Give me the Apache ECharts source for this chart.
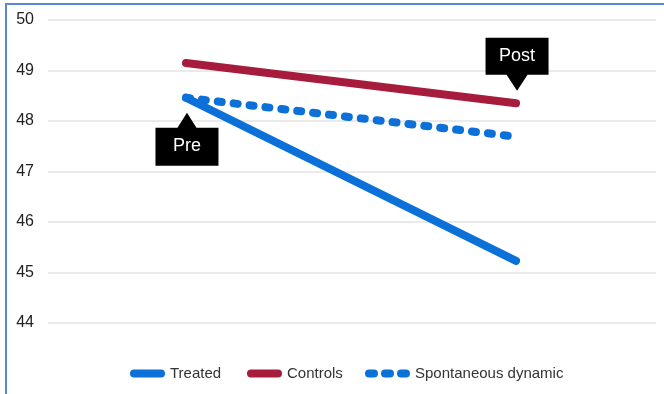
<!DOCTYPE html>
<html>
<head>
<meta charset="utf-8">
<script src="https://cdn.jsdelivr.net/npm/echarts@6/dist/echarts.min.js"></script>
<style>
  html, body { margin: 0; padding: 0; background: #fff; }
  #chart { width: 664px; height: 394px; }
</style>
</head>
<body>
<div id="chart"></div>
<script>
// Measurement occasions (x positions 0 and 1 on a hidden value axis)
const stages = ['Pre', 'Post'];

// Mean scores per group
const treated = [48.46, 45.23];
const controls = [49.15, 48.35];
const spontaneous = [48.46, 47.69];

// Y axis range and step
const yMin = 44;
const yMax = 50;
const yStep = 1;

const BLUE = '#0b70d7';
const RED = '#a71c3d';
const FONT = '"Liberation Sans", Arial, sans-serif';

const toPoints = vals => vals.map((v, i) => [i, v]);

// Legend icons
const pillIcon = 'path://M4,0 L31,0 A4,4 0 0 1 31,8 L4,8 A4,4 0 0 1 4,0 Z';
const dotsIcon = 'path://M4,0 L9,0 A4,4 0 0 1 9,8 L4,8 A4,4 0 0 1 4,0 Z ' +
  'M20,0 L25,0 A4,4 0 0 1 25,8 L20,8 A4,4 0 0 1 20,0 Z ' +
  'M36,0 L41,0 A4,4 0 0 1 41,8 L36,8 A4,4 0 0 1 36,0 Z';

// Callout shapes: box below with pointer up, box above with pointer down
const calloutUp = 'path://M31.5,0 L41,15 L63,15 L63,53 L0,53 L0,15 L22,15 Z';
const calloutDown = 'path://M0,0 L63,0 L63,37 L42,37 L31.5,53 L21,37 L0,37 Z';

function legendFor(name, left, width, icon) {
  return {
    data: [{ name: name, icon: icon }],
    left: left,
    top: 366,
    padding: 0,
    itemWidth: width,
    itemHeight: 8,
    itemGap: 0,
    selectedMode: false,
    textStyle: { fontFamily: FONT, fontSize: 15, color: '#333' }
  };
}

const chart = echarts.init(document.getElementById('chart'), null, { renderer: 'canvas' });

chart.setOption({
  animation: false,
  backgroundColor: '#fff',
  grid: { left: 48, right: 8, top: 20, bottom: 71, containLabel: false },
  xAxis: {
    type: 'value',
    min: -0.418,
    max: 1.424,
    show: false,
    splitLine: { show: false }
  },
  yAxis: {
    type: 'value',
    min: yMin,
    max: yMax,
    interval: yStep,
    axisLine: { show: false },
    axisTick: { show: false },
    axisLabel: { fontFamily: FONT, fontSize: 16, color: '#222', margin: 14 },
    splitLine: { lineStyle: { color: '#e3e3e3', width: 1.5 } }
  },
  legend: [
    legendFor('Treated', 130, 35, pillIcon),
    legendFor('Controls', 247, 35, pillIcon),
    legendFor('Spontaneous dynamic', 365, 45, dotsIcon)
  ],
  graphic: [{
    type: 'rect',
    shape: { x: 6, y: 4, width: 720, height: 500 },
    style: { fill: null, stroke: '#5b87d2', lineWidth: 2 },
    silent: true,
    z: 100
  }],
  series: [
    {
      name: 'Treated',
      type: 'line',
      data: toPoints(treated),
      color: BLUE,
      symbol: 'none',
      lineStyle: { color: BLUE, width: 8, cap: 'round' },
      markPoint: {
        symbol: calloutUp,
        symbolSize: [63, 53],
        symbolOffset: [1, 41.5],
        itemStyle: { color: '#000' },
        label: {
          show: true,
          formatter: '{b}',
          color: '#fff',
          fontFamily: FONT,
          fontSize: 18,
          offset: [0, 7]
        },
        data: [{ name: stages[0], coord: [0, treated[0]] }]
      },
      z: 2
    },
    {
      name: 'Controls',
      type: 'line',
      data: toPoints(controls),
      color: RED,
      symbol: 'none',
      lineStyle: { color: RED, width: 8, cap: 'round' },
      markPoint: {
        symbol: calloutDown,
        symbolSize: [63, 53],
        symbolOffset: [1, -39],
        itemStyle: { color: '#000' },
        label: {
          show: true,
          formatter: '{b}',
          color: '#fff',
          fontFamily: FONT,
          fontSize: 18,
          offset: [0, -8]
        },
        data: [{ name: stages[1], coord: [1, controls[1]] }]
      },
      z: 2
    },
    {
      name: 'Spontaneous dynamic',
      type: 'line',
      data: toPoints(spontaneous),
      color: BLUE,
      symbol: 'none',
      lineStyle: { color: BLUE, width: 8, cap: 'round', type: [4, 12] },
      z: 3
    }
  ]
});
</script>
</body>
</html>
